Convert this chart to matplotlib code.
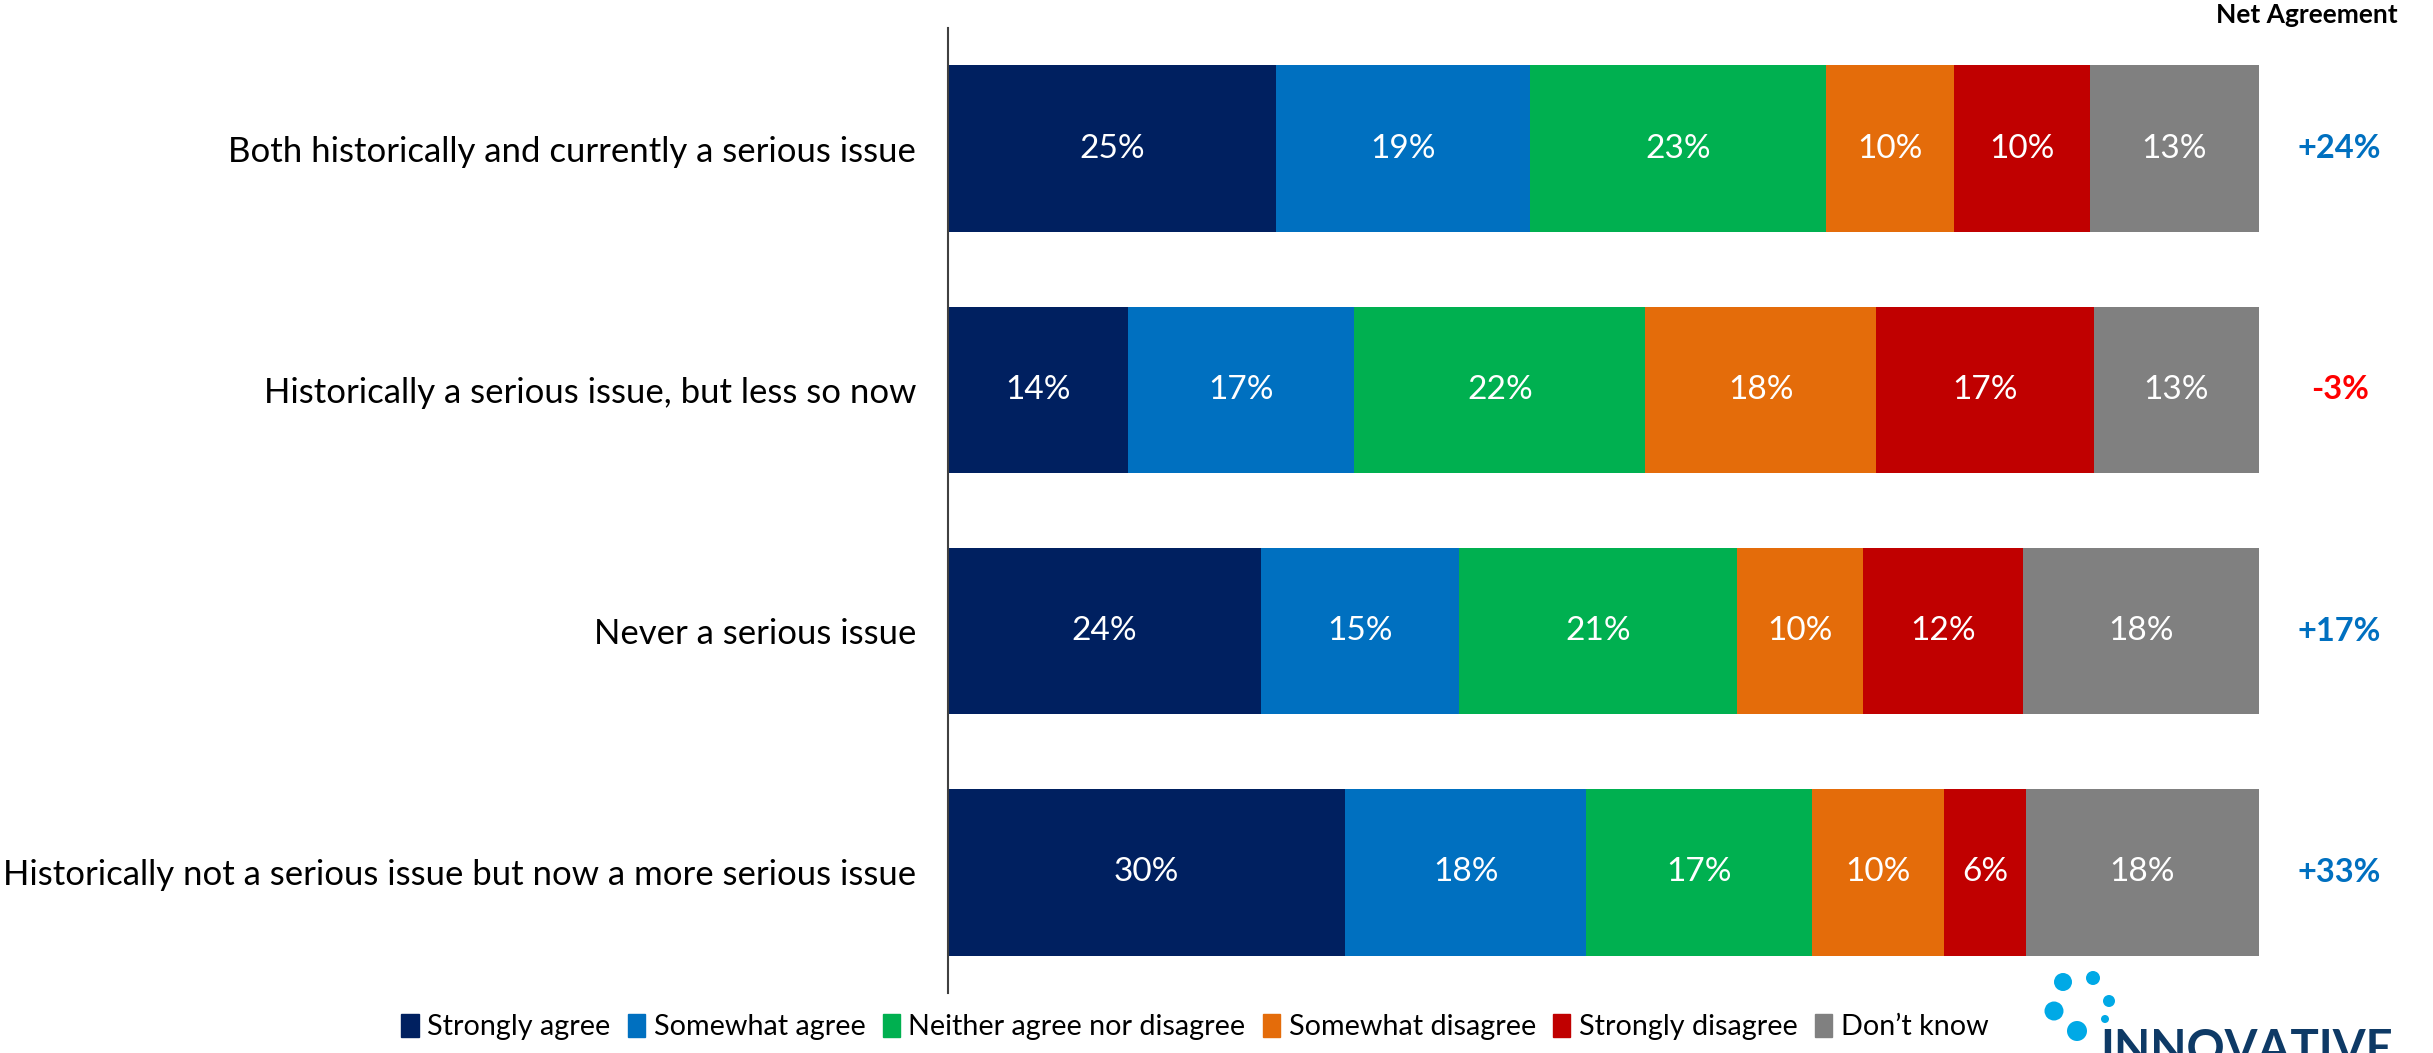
import numpy as np
import matplotlib
matplotlib.use("Agg")
import matplotlib.pyplot as plt
from matplotlib.patches import Rectangle

plt.rcParams['font.family'] = ['Lato', 'DejaVu Sans']

categories = [
    "Both historically and currently a serious issue",
    "Historically a serious issue, but less so now",
    "Never a serious issue",
    "Historically not a serious issue but now a more serious issue",
]
responses = ["Strongly agree", "Somewhat agree", "Neither agree nor disagree",
             "Somewhat disagree", "Strongly disagree", "Don\u2019t know"]
colors = ["#002060", "#0070C0", "#00B050", "#E46C0A", "#C00000", "#808080"]

# shares (percent)
strongly_agree = [25.0, 13.7, 23.9, 30.3]
somewhat_agree = [19.4, 17.3, 15.1, 18.4]
neither = [22.6, 22.2, 21.2, 17.2]
somewhat_disagree = [9.7, 17.6, 9.6, 10.1]
strongly_disagree = [10.4, 16.6, 12.2, 6.2]
dont_know = [12.9, 12.6, 18.0, 17.8]
net_agreement = [24, -3, 17, 33]

series = [strongly_agree, somewhat_agree, neither,
          somewhat_disagree, strongly_disagree, dont_know]

W, H = 2433, 1053
fig = plt.figure(figsize=(W / 100, H / 100), dpi=100)
ax = fig.add_axes([948 / W, 1 - 993 / H, (2259 - 948) / W, (993 - 28) / H])
ax.patch.set_alpha(0)

y = np.arange(len(categories))
left = np.zeros(len(categories))
for vals, col, name in zip(series, colors, responses):
    vals = np.array(vals)
    ax.barh(y, vals, left=left, height=0.69, color=col, label=name)
    for yi, l, v in zip(y, left, vals):
        ax.text(l + v / 2, yi, f"{int(round(v))}%", ha="center", va="center",
                color="white", fontsize=24)
    left += vals

ax.set_xlim(0, left.max())
ax.set_ylim(len(categories) - 0.5, -0.5)
ax.set_xticks([])
ax.set_yticks(y)
ax.set_yticklabels(categories, fontsize=25)
ax.tick_params(axis="y", length=0, pad=23)
for s in ["top", "right", "bottom"]:
    ax.spines[s].set_visible(False)
ax.spines["left"].set_linewidth(1.5)
ax.spines["left"].set_color("#404040")

# net agreement column
for yi, n in zip(y, net_agreement):
    ax.text(left.max() * 1.0615, yi, f"{n:+d}%", ha="center", va="center",
            fontsize=23.5, fontweight="bold",
            color="#0070C0" if n >= 0 else "#FF0000", clip_on=False)
fig.text(2398 / W, 1 - 15 / H, "Net Agreement", ha="right", va="center",
         fontsize=19, fontweight="bold")

# legend
handles = [Rectangle((0, 0), 1, 1, color=c) for c in colors]
fig.legend(handles, responses, loc="center", bbox_to_anchor=(1195 / W, 1 - 1027 / H),
           ncol=6, frameon=False, fontsize=20.7, handlelength=0.6, handleheight=0.9,
           handletextpad=0.3, columnspacing=0.6)

# logo
dot_x = [2063, 2093, 2109, 2054, 2105, 2077]
dot_y = [982, 978, 1001, 1011, 1019, 1031]
dot_r = [9, 7, 6, 9.5, 4, 10]
lax = fig.add_axes([0, 0, 1, 1], zorder=5)
lax.patch.set_alpha(0)
lax.set_xlim(0, W)
lax.set_ylim(H, 0)
lax.axis("off")
lax.scatter(dot_x, dot_y, s=[(2 * r * 0.72) ** 2 for r in dot_r], color="#00A9E6", lw=0)
lax.text(2100, 1028, "INNOVATIVE", ha="left", va="top", fontsize=34,
         fontweight="bold", color="#0E3A66")

fig.savefig("out.png", dpi=100)
